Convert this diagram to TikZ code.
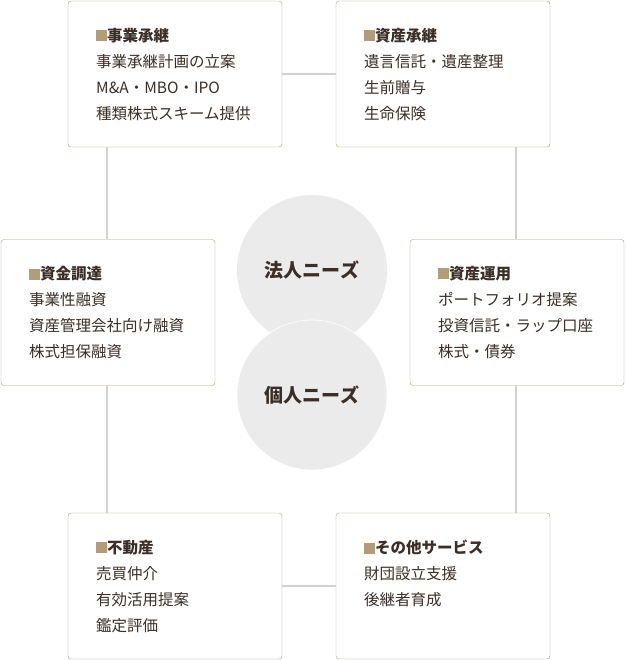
\documentclass[tikz,border=0pt]{standalone}
\usepackage{fontspec}
\setmainfont{Noto Sans CJK JP}
\usetikzlibrary{positioning}
\definecolor{tan}{HTML}{B39C78}
\definecolor{ttl}{HTML}{3A2E26}
\definecolor{conn}{HTML}{D2D2D2}
\definecolor{bubble}{HTML}{EBEBEB}
\tikzset{
  card/.style={draw=tan, fill=white, rounded corners=3pt, minimum width=214pt, minimum height=146pt, inner sep=0pt},
  link/.style={draw=conn, line width=1.2pt},
  need/.style={circle, fill=bubble, minimum size=150pt},
  needtext/.style={font=\fontsize{19}{19}\selectfont\bfseries, text=ttl},
  itemtext/.style={anchor=north west, font=\fontsize{15.5}{26}\selectfont, text=ttl, align=left, inner sep=0pt},
}
\newcommand{\cardhead}[1]{{\color{tan}\rule{11pt}{11pt}}\textbf{#1}}
\begin{document}
\begin{tikzpicture}[x=1pt, y=-1pt]
    \useasboundingbox (0,0) rectangle (625,660);
    % needs
    \node (corp) [need] at (312,270) {};
    \node (pers) [need, draw=white, line width=0.6pt] at (312,395) {};
    \node (corplabel) [needtext] at (312,270) {法人ニーズ};
    \node (perslabel) [needtext] at (312,395) {個人ニーズ};
    % cards
    \node (jigyo) [card] at (175,74) {};
    \node (shisan) [card] at (443,74) {};
    \node (shikin) [card] at (108,312.5) {};
    \node (unyo) [card] at (517,312.5) {};
    \node (fudosan) [card] at (175,586) {};
    \node (other) [card] at (443,586) {};
    % links
    \draw [link] (jigyo.east) -- (shisan.west);
    \draw [link] (fudosan.east) -- (other.west);
    \draw [link] (jigyo.south -| 107,0) -- (shikin.north -| 107,0);
    \draw [link] (shikin.south -| 107,0) -- (fudosan.north -| 107,0);
    \draw [link] (shisan.south -| 516,0) -- (unyo.north -| 516,0);
    \draw [link] (unyo.south -| 516,0) -- (other.north -| 516,0);
    % texts
    \node (jigyotext) [itemtext] at (96,28) {\cardhead{事業承継}\\事業承継計画の立案\\M\&A・MBO・IPO\\種類株式スキーム提供};
    \node (shisantext) [itemtext] at (364,28) {\cardhead{資産承継}\\遺言信託・遺産整理\\生前贈与\\生命保険};
    \node (shikintext) [itemtext] at (29,266) {\cardhead{資金調達}\\事業性融資\\資産管理会社向け融資\\株式担保融資};
    \node (unyotext) [itemtext] at (438,266) {\cardhead{資産運用}\\ポートフォリオ提案\\投資信託・ラップ口座\\株式・債券};
    \node (fudosantext) [itemtext] at (96,540) {\cardhead{不動産}\\売買仲介\\有効活用提案\\鑑定評価};
    \node (othertext) [itemtext] at (364,540) {\cardhead{その他サービス}\\財団設立支援\\後継者育成};
\end{tikzpicture}
\end{document}
